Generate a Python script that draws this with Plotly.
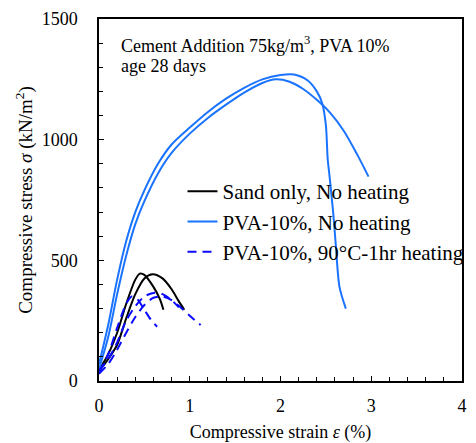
import plotly.graph_objects as go

# ---- data ----
# Sand only, No heating (two specimens)
sand1_x = [0.00, 0.10, 0.20, 0.30, 0.40, 0.45, 0.50, 0.60, 0.67, 0.71]
sand1_y = [45, 110, 200, 320, 420, 445, 440, 390, 340, 295]
sand2_x = [0.00, 0.10, 0.20, 0.30, 0.40, 0.50, 0.59, 0.70, 0.80, 0.88, 0.94]
sand2_y = [40, 90, 150, 260, 360, 425, 442, 425, 380, 330, 295]

# PVA-10%, No heating (two specimens)
pva1_x = [0.00, 0.10, 0.20, 0.30, 0.40, 0.50, 0.65, 0.80, 1.00, 1.20, 1.40, 1.60, 1.80,
          2.00, 2.15, 2.30, 2.40, 2.46, 2.50, 2.52, 2.54, 2.58, 2.61, 2.65, 2.72]
pva1_y = [70, 230, 420, 580, 700, 790, 900, 980, 1050, 1115, 1170, 1215, 1250,
          1268, 1270, 1245, 1200, 1150, 1060, 920, 850, 700, 560, 390, 300]
pva2_x = [0.00, 0.10, 0.20, 0.30, 0.40, 0.50, 0.65, 0.80, 1.00, 1.20, 1.40, 1.60, 1.80,
          1.95, 2.10, 2.25, 2.40, 2.55, 2.70, 2.85, 2.97]
pva2_y = [50, 180, 360, 520, 650, 745, 860, 945, 1025, 1090, 1145, 1195, 1235,
          1250, 1240, 1210, 1165, 1110, 1035, 935, 847]

# PVA-10%, 90°C-1hr heating (three specimens)
heat1_x = [0.00, 0.10, 0.20, 0.30, 0.36, 0.42, 0.50, 0.57, 0.64]
heat1_y = [35, 110, 220, 320, 350, 340, 295, 255, 225]
heat2_x = [0.00, 0.10, 0.20, 0.30, 0.40, 0.50, 0.60, 0.70, 0.80, 0.90, 1.00, 1.12]
heat2_y = [30, 70, 130, 200, 265, 315, 345, 350, 335, 305, 270, 232]
heat3_x = [0.00, 0.10, 0.20, 0.30, 0.40, 0.50, 0.60, 0.70, 0.80, 0.88]
heat3_y = [45, 90, 160, 250, 310, 350, 365, 360, 335, 305]

x_ticks = [0, 1, 2, 3, 4]
y_ticks = [0, 500, 1000, 1500]

names = ["Sand only, No heating", "PVA-10%, No heating", "PVA-10%, 90°C-1hr heating"]

BLACK = "#000000"
BLUE = "#1a73ff"
DBLUE = "#0a0aff"

fig = go.Figure()

def add(x, y, name, color, dash, show):
    fig.add_trace(go.Scatter(x=x, y=y, mode="lines", name=name, legendgroup=name,
                             showlegend=show, line=dict(color=color, width=2, dash=dash,
                                                        shape="spline", smoothing=0.8)))

add(sand1_x, sand1_y, names[0], BLACK, "solid", True)
add(sand2_x, sand2_y, names[0], BLACK, "solid", False)
add(pva1_x, pva1_y, names[1], BLUE, "solid", True)
add(pva2_x, pva2_y, names[1], BLUE, "solid", False)
add(heat1_x, heat1_y, names[2], DBLUE, "9px,6px", True)
add(heat2_x, heat2_y, names[2], DBLUE, "9px,6px", False)
add(heat3_x, heat3_y, names[2], DBLUE, "9px,6px", False)

FONT = "Liberation Serif, Times New Roman, serif"

fig.update_layout(
    width=476, height=443,
    margin=dict(l=99, r=14, t=19, b=62, autoexpand=False),
    paper_bgcolor="white", plot_bgcolor="white",
    font=dict(family=FONT, color="black", size=18),
    showlegend=True,
    legend=dict(x=0.23, y=0.58, xanchor="left", yanchor="top",
                bgcolor="rgba(0,0,0,0)", font=dict(size=21, family=FONT),
                tracegroupgap=0),
    xaxis=dict(range=[0, 4], tickvals=x_ticks, ticks="inside", ticklen=5,
               tickcolor="black", showline=True, linecolor="black", linewidth=1.5,
               mirror=True, showgrid=False, zeroline=False, automargin=False,
               minor=dict(dtick=0.2, ticks="inside", ticklen=4, tickcolor="black"),
               tickfont=dict(size=18, family=FONT), ticklabelstandoff=8,
               title=dict(text="Compressive strain <i>ε</i> (%)",
                          font=dict(size=18, family=FONT), standoff=10)),
    yaxis=dict(range=[0, 1500], tickvals=y_ticks, ticks="inside", ticklen=5,
               tickcolor="black", showline=True, linecolor="black", linewidth=1.5,
               mirror=True, showgrid=False, zeroline=False, automargin=False,
               minor=dict(dtick=100, ticks="inside", ticklen=4, tickcolor="black"),
               tickfont=dict(size=18, family=FONT), ticklabelstandoff=16,
               title=dict(text="Compressive stress <i>σ</i> (kN/m<sup>2</sup>)",
                          font=dict(size=19, family=FONT), standoff=4)),
    annotations=[
        dict(x=0.055, y=0.93, xref="paper", yref="paper", xanchor="left", yanchor="middle",
             text="Cement Addition 75kg/m<sup>3</sup>, PVA 10%", showarrow=False,
             font=dict(size=18, family=FONT)),
        dict(x=0.055, y=0.87, xref="paper", yref="paper", xanchor="left", yanchor="middle",
             text="age 28 days", showarrow=False, font=dict(size=18, family=FONT)),
    ],
)

fig.write_html("out.html", config={"displayModeBar": False},
               post_script="document.body.style.margin='0px';document.body.style.padding='0px';")
